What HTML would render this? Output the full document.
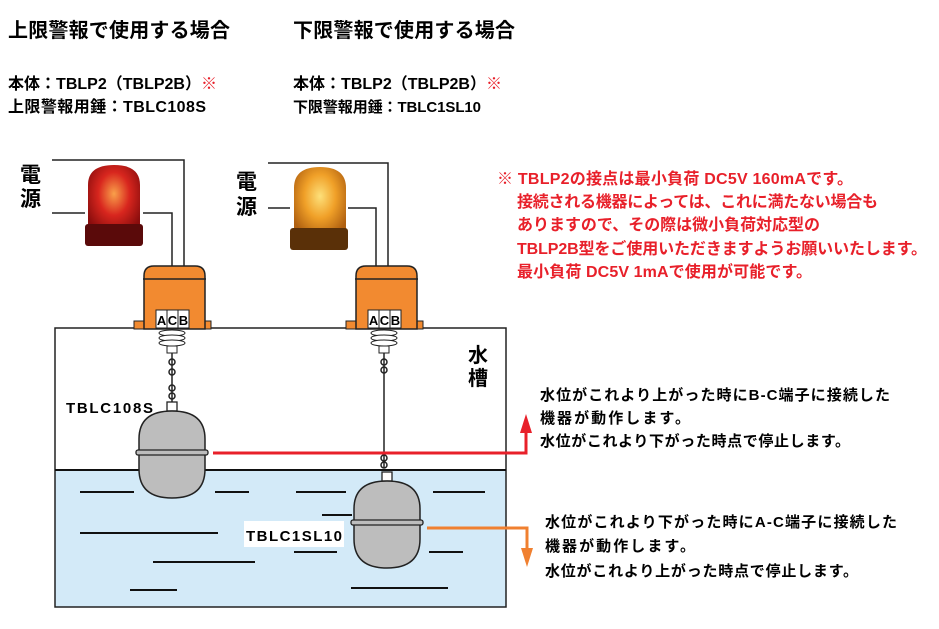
<!DOCTYPE html>
<html><head><meta charset="utf-8"><style>
body{margin:0;background:#fff}
svg{display:block}
text{font-family:"Liberation Sans","Noto Sans CJK JP",sans-serif;font-weight:bold}
</style></head><body>
<svg width="939" height="629" viewBox="0 0 939 629" xmlns="http://www.w3.org/2000/svg">
<defs>
<radialGradient id="rl" cx="0.5" cy="0.4" r="0.6"><stop offset="0" stop-color="#f9a04a"/><stop offset="0.5" stop-color="#d8261e"/><stop offset="1" stop-color="#8a0d0d"/></radialGradient>
<radialGradient id="yl" cx="0.5" cy="0.4" r="0.6"><stop offset="0" stop-color="#fde07a"/><stop offset="0.5" stop-color="#f0a028"/><stop offset="1" stop-color="#b06010"/></radialGradient>
<g id="housing">
<rect x="-30" y="55" width="77" height="8" fill="#f28a30" stroke="#222" stroke-width="1"/>
<path d="M-20 63 V10 Q-20 0 -10 0 H31 Q41 0 41 10 V63 Z" fill="#f28a30" stroke="#222" stroke-width="1.5"/>
<line x1="-21" y1="13" x2="42" y2="13" stroke="#222" stroke-width="1.5"/>
<rect x="-8" y="44" width="11" height="18" fill="#fff" stroke="#222"/>
<rect x="3" y="44" width="11" height="18" fill="#fff" stroke="#222"/>
<rect x="14" y="44" width="11" height="18" fill="#fff" stroke="#222"/>
<text x="-2.5" y="59" font-size="13" font-weight="normal" text-anchor="middle">A</text>
<text x="8.5" y="59" font-size="13" font-weight="normal" text-anchor="middle">C</text>
<text x="19.5" y="59" font-size="13" font-weight="normal" text-anchor="middle">B</text>
<ellipse cx="8" cy="67" rx="13" ry="3" fill="#fff" stroke="#222"/>
<ellipse cx="8" cy="72" rx="13" ry="3" fill="#fff" stroke="#222"/>
<ellipse cx="8" cy="77" rx="13" ry="3" fill="#fff" stroke="#222"/>
<rect x="3" y="80" width="10" height="7" fill="#fff" stroke="#222"/>
</g>
<g id="float">
<rect x="-5" y="-12" width="10" height="9" fill="#fff" stroke="#222" stroke-width="1.3"/>
<path d="M-33 40 V25 Q-33 -3 0 -3 Q33 -3 33 25 V55 Q33 84 0 84 Q-33 84 -33 55 Z" fill="#bdbdbd" stroke="#222" stroke-width="1.5"/>
<rect x="-36" y="36" width="72" height="5" rx="2" fill="#bdbdbd" stroke="#222" stroke-width="1.3"/>
</g>
</defs>

<text x="8" y="37" font-size="20" textLength="222" lengthAdjust="spacing">上限警報で使用する場合</text>
<text x="293" y="37" font-size="20" textLength="222" lengthAdjust="spacing">下限警報で使用する場合</text>
<text x="8" y="89" font-size="16" textLength="209" lengthAdjust="spacing">本体：TBLP2（TBLP2B）<tspan fill="#e8202a">※</tspan></text>
<text x="8" y="112" font-size="16" textLength="198" lengthAdjust="spacing">上限警報用錘：TBLC108S</text>
<text x="293" y="89" font-size="16" textLength="209" lengthAdjust="spacing">本体：TBLP2（TBLP2B）<tspan fill="#e8202a">※</tspan></text>
<text x="293" y="112" font-size="15" textLength="188" lengthAdjust="spacing">下限警報用錘：TBLC1SL10</text>

<rect x="55" y="470" width="451" height="137" fill="#d3eaf8"/>
<rect x="55" y="328" width="451" height="279" fill="none" stroke="#222" stroke-width="1.5"/>
<line x1="55" y1="470" x2="506" y2="470" stroke="#111" stroke-width="2"/>
<g stroke="#111" stroke-width="2">
<line x1="80" y1="492" x2="134" y2="492"/><line x1="215" y1="492" x2="249" y2="492"/>
<line x1="296" y1="492" x2="346" y2="492"/><line x1="433" y1="492" x2="485" y2="492"/>
<line x1="322" y1="515" x2="352" y2="515"/>
<line x1="80" y1="533" x2="218" y2="533"/>
<line x1="153" y1="562" x2="255" y2="562"/>
<line x1="294" y1="552" x2="337" y2="552"/><line x1="429" y1="552" x2="463" y2="552"/>
<line x1="130" y1="590" x2="177" y2="590"/><line x1="351" y1="588" x2="448" y2="588"/>
</g>
<text x="468" y="362" font-size="20" font-weight="normal">水</text>
<text x="468" y="385" font-size="20" font-weight="normal">槽</text>

<text x="20" y="182" font-size="21" font-weight="normal">電</text>
<text x="20" y="206" font-size="21" font-weight="normal">源</text>
<text x="236" y="189" font-size="21" font-weight="normal">電</text>
<text x="236" y="214" font-size="21" font-weight="normal">源</text>

<path d="M88 237 V185 Q88 165 114 165 Q140 165 140 185 V237 Z" fill="url(#rl)"/>
<rect x="85" y="224" width="58" height="22" rx="3" fill="#5a0a0a"/>
<path d="M294 240 V188 Q294 167 320 167 Q346 167 346 188 V240 Z" fill="url(#yl)"/>
<rect x="290" y="228" width="58" height="22" rx="3" fill="#5a3008"/>

<g fill="none" stroke="#222" stroke-width="1.5">
<path d="M52 160 H184 V320"/><path d="M52 213 H85"/><path d="M143 213 H172 V320"/>
<path d="M268 163 H388 V320"/><path d="M268 208 H290"/><path d="M348 208 H376 V320"/>
</g>

<use href="#housing" x="164" y="266"/>
<use href="#housing" x="376" y="266"/>

<g stroke="#222" stroke-width="1.5" fill="none">
<line x1="172" y1="353" x2="172" y2="403"/>
<circle cx="172" cy="362" r="3"/><circle cx="172" cy="372" r="3"/><circle cx="172" cy="388" r="3"/><circle cx="172" cy="396" r="3"/>
<line x1="384" y1="353" x2="384" y2="468"/>
<circle cx="384" cy="362" r="3"/><circle cx="384" cy="370" r="3"/><circle cx="384" cy="458" r="3"/><circle cx="384" cy="465" r="3"/>
</g>
<use href="#float" x="172" y="414"/>
<use href="#float" x="387" y="484"/>

<text x="66" y="413" font-size="15" textLength="87" lengthAdjust="spacing">TBLC108S</text>
<rect x="244" y="521" width="100" height="26" fill="#fff"/>
<text x="246" y="541" font-size="15" textLength="96" lengthAdjust="spacing">TBLC1SL10</text>

<path d="M213 453 H526 V428" fill="none" stroke="#e8202a" stroke-width="3"/>
<polygon points="520,433 532,433 526,414" fill="#e8202a"/>
<path d="M427 528 H527 V552" fill="none" stroke="#f08030" stroke-width="3"/>
<polygon points="521,548 533,548 527,567" fill="#f08030"/>

<g font-size="15">
<text x="540" y="400" textLength="350" lengthAdjust="spacing">水位がこれより上がった時にB-C端子に接続した</text>
<text x="540" y="423" textLength="150" lengthAdjust="spacing">機器が動作します。</text>
<text x="540" y="446" textLength="310" lengthAdjust="spacing">水位がこれより下がった時点で停止します。</text>
<text x="545" y="527" textLength="352" lengthAdjust="spacing">水位がこれより下がった時にA-C端子に接続した</text>
<text x="545" y="551" textLength="150" lengthAdjust="spacing">機器が動作します。</text>
<text x="545" y="576" textLength="313" lengthAdjust="spacing">水位がこれより上がった時点で停止します。</text>
</g>
<g font-size="16" fill="#e8202a">
<text x="497" y="184" textLength="356" lengthAdjust="spacing">※ TBLP2の接点は最小負荷 DC5V 160mAです。</text>
<text x="517" y="207" textLength="361" lengthAdjust="spacing">接続される機器によっては、これに満たない場合も</text>
<text x="517" y="230" textLength="303" lengthAdjust="spacing">ありますので、その際は微小負荷対応型の</text>
<text x="517" y="254" textLength="410" lengthAdjust="spacing">TBLP2B型をご使用いただきますようお願いいたします。</text>
<text x="517" y="277" textLength="295" lengthAdjust="spacing">最小負荷 DC5V 1mAで使用が可能です。</text>
</g>
</svg>
</body></html>
